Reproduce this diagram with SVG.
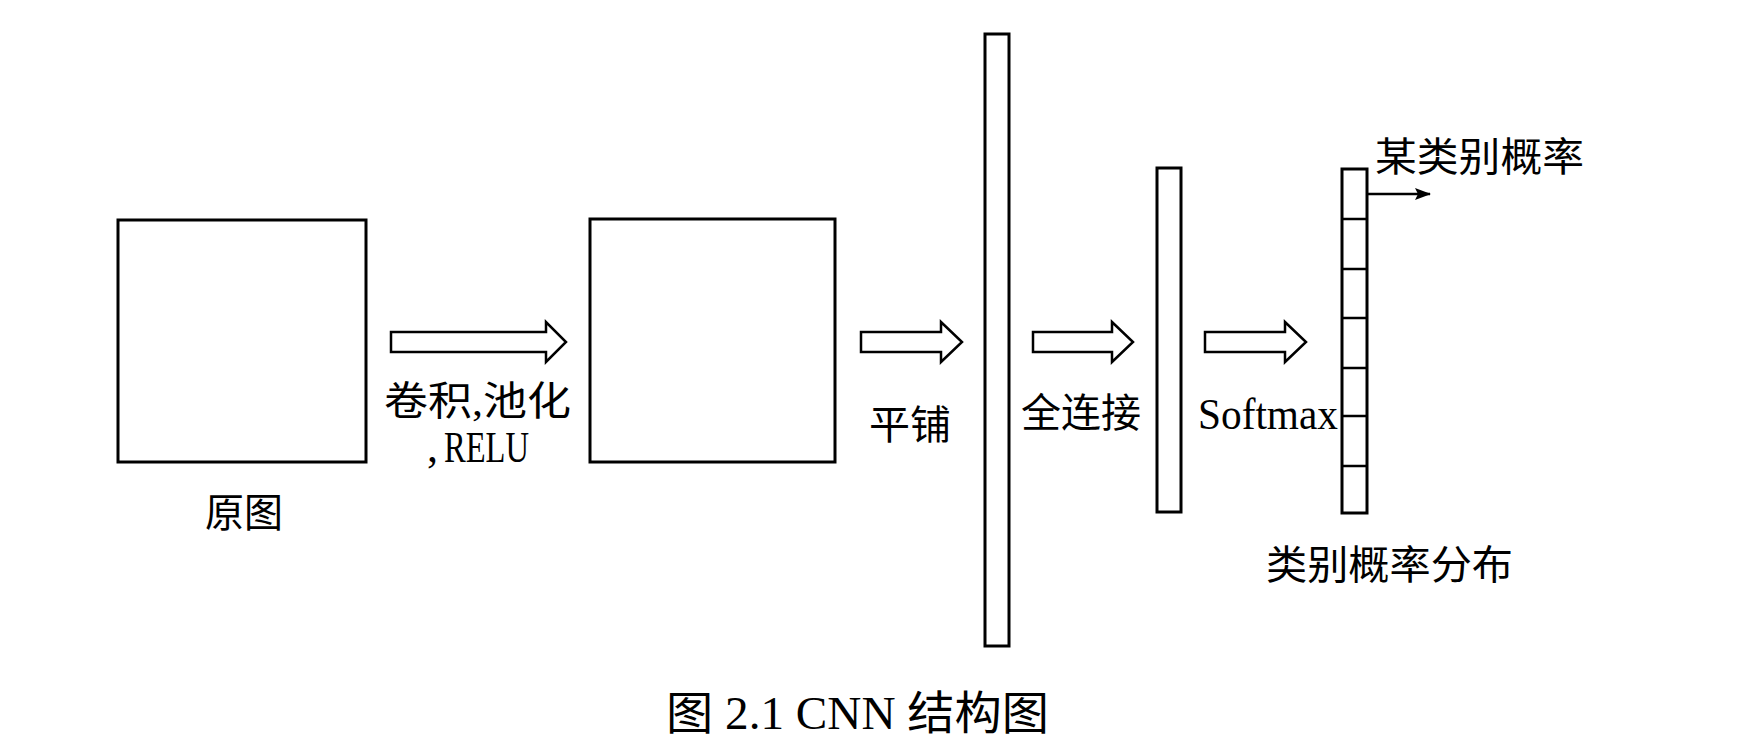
<svg xmlns="http://www.w3.org/2000/svg" width="1748" height="755" viewBox="0 0 1748 755">
<style>
.box{fill:#fff;stroke:#000;stroke-width:3}
.cell{fill:none;stroke:#000;stroke-width:2.5}
.blk{fill:#fff;stroke:#000;stroke-width:2.5;stroke-linejoin:miter}
.lbl{font-family:"Liberation Serif","Noto Sans CJK SC",serif;font-size:40px;fill:#000}
.lat{font-family:"Liberation Serif",serif;font-size:44px;fill:#000}
.cap{font-family:"Liberation Serif","Noto Sans CJK SC",serif;font-size:46px;fill:#000}
</style>
<defs>
<marker id="ah" markerWidth="16" markerHeight="12" refX="15" refY="6" orient="auto" markerUnits="userSpaceOnUse" viewBox="0 0 16 12">
<path d="M0,0 L16,6 L0,12 L3,6 z" fill="#000"/>
</marker>
</defs>
<rect width="1748" height="755" fill="#fff"/>
<g id="input-image">
<rect class="box" x="118" y="220" width="248" height="242"/>
<text class="lbl" x="205" y="527" textLength="78" lengthAdjust="spacingAndGlyphs">原图</text>
</g>
<g id="feature-map">
<rect class="box" x="590" y="219" width="245" height="243"/>
</g>
<g id="flatten-vector">
<rect class="box" x="985" y="34" width="24" height="612"/>
</g>
<g id="fc-vector">
<rect class="box" x="1157" y="168" width="24" height="344"/>
</g>
<g id="softmax-output">
<rect class="box" x="1342" y="169" width="25" height="344"/>
<path class="cell" d="M1342,219H1367M1342,269H1367M1342,318H1367M1342,368H1367M1342,416H1367M1342,466H1367"/>
<text class="lbl" x="1375" y="171" textLength="209" lengthAdjust="spacingAndGlyphs">某类别概率</text>
<text class="lbl" x="1266" y="579" textLength="247" lengthAdjust="spacingAndGlyphs">类别概率分布</text>
</g>
<g id="connectors">
<path class="blk" d="M391,332H546V322L566,342L546,362V352H391Z"/>
<text class="lbl" x="384" y="415" textLength="187" lengthAdjust="spacingAndGlyphs">卷积,池化</text>
<text class="lat" x="427" y="462">,<tspan x="444" textLength="85" lengthAdjust="spacingAndGlyphs">RELU</tspan></text>
<path class="blk" d="M861,332H941V322L962,342L941,362V352H861Z"/>
<text class="lbl" x="869" y="439" textLength="82" lengthAdjust="spacingAndGlyphs">平铺</text>
<path class="blk" d="M1033,332H1112V322L1133,342L1112,362V352H1033Z"/>
<text class="lbl" x="1021" y="427" textLength="120" lengthAdjust="spacingAndGlyphs">全连接</text>
<path class="blk" d="M1205,332H1285V322L1306,342L1285,362V352H1205Z"/>
<text class="lat" x="1198" y="429" textLength="140" lengthAdjust="spacingAndGlyphs">Softmax</text>
<line x1="1368" y1="194" x2="1430" y2="194" stroke="#000" stroke-width="2.5" marker-end="url(#ah)"/>
</g>
<g id="caption">
<text class="cap" x="666" y="729" textLength="383" lengthAdjust="spacingAndGlyphs">图 2.1 CNN 结构图</text>
</g>
</svg>
